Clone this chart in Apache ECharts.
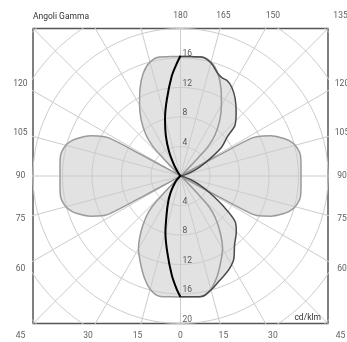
<!DOCTYPE html>
<html><head><meta charset="utf-8">
<script src="https://cdn.jsdelivr.net/npm/echarts@6/dist/echarts.min.js"></script>
<style>html,body{margin:0;padding:0;background:#fff}#c{width:347px;height:342px}</style>
</head><body><div id="c"></div>
<script>
// ---- data (gamma angle in degrees, intensity in cd/klm) ----
const lightGamma = [0,5,10,15,20,25,30,35,40,43,44,45,47,50,53,60,61,61.5,62,64,66,70,72,75,80,85,90,95,100,105,108,110,114,116,118,118.5,119,120,127,130,133,135,136,137,140,145,150,155,160,165,170,175,180];
const lightI     = [16.4,16.45,16.55,15.9,14.5,12.9,11.4,9.4,7.3,5.6,3.5,1.8,0.7,0.2,0,0,1.5,6,11.0,12.4,13.4,14.9,15.5,16.1,16.5,16.4,16.34,16.4,16.5,16.1,15.5,14.9,13.4,12.4,11.0,6,1.5,0,0,0.2,0.7,1.8,3.5,5.5,7.3,9.3,11.1,13.0,14.8,16.0,16.4,16.25,16.2];
const darkGamma  = [0,5,10,15,20,24,28,33,38,45,50,55,60,65,70,75,80,85,95,100,105,110,115,120,125,130,133,139,145,150,154,157,160,165,170,175,180];
const darkI      = [16.37,16.45,16.6,16.0,15.2,14.7,14.2,13.3,11.9,10.7,9.7,7.0,4.6,2.8,1.5,0.6,0.1,0,0,0.1,0.6,1.5,2.8,4.5,6.8,8.3,10.1,11.5,12.9,13.9,14.4,14.45,14.8,15.9,16.4,16.25,16.2];
const blackGamma = [0,2,5,10,15,20,25,30,35,40,45,50,55,135,140,145,150,155,160,165,170,175,178,180];
const blackI     = [16.4,15.3,13.5,10.4,7.9,5.5,4.0,2.8,1.8,1.1,0.6,0.25,0,0,0.1,0.6,1.8,3.7,5.8,8.1,10.6,13.6,15.2,16.3];

const circleRadii = [4,8,12,16,20,24,28];
const spokeAngles = [0,15,30,45,60,75,90,105,120,135,150,165];
const radialTopTicks = [4,8,12,16];
const radialBottomTicks = [4,8,12,16,20];
const topTickLabels = ['180','165','150','135'];
const topTickAngles = [0,15,30,45];
const sideTickLabels = ['120','105','90','75','60'];
const sideTickAngles = [30,15,0,-15,-30];
const bottomTickLabels = ['45','30','15','0','15','30','45'];
const bottomTickAngles = [-45,-30,-15,0,15,30,45];

// ---- build ----
const rad = d => d*Math.PI/180;
const LABEL_D = 21.7;
const FONT = 'Roboto';
const TXT = '#333';

function circlePts(r){const p=[];for(let a=0;a<=360;a+=2){p.push([r*Math.sin(rad(a)),r*Math.cos(rad(a))]);}return p;}
const gridData = circleRadii.map(r=>({coords:circlePts(r)}))
  .concat(spokeAngles.map(a=>({coords:[[32*Math.sin(rad(a)),32*Math.cos(rad(a))],[-32*Math.sin(rad(a)),-32*Math.cos(rad(a))]]})));

const right = (G,I)=>G.map((g,i)=>[I[i], g]);
const left  = (G,I)=>G.map((g,i)=>[I[i], 360-g]);

const curves = [
  {d:right(lightGamma,lightI), c:'#9a9a9a', w:1.5},
  {d:left(lightGamma,lightI),  c:'#9a9a9a', w:1.5},
  {d:right(darkGamma,darkI),   c:'#4a4a4a', w:1.5},
  {d:left(blackGamma,blackI),  c:'#000000', w:2}
];
const FILL = '#e2e2e2';
const fillSeries = curves.map(cv=>({type:'line',coordinateSystem:'polar',data:cv.d,smooth:0.3,showSymbol:false,silent:true,z:1,
  lineStyle:{width:0,opacity:0},areaStyle:{color:FILL,opacity:1}}));
const strokeSeries = curves.map((cv,i)=>({type:'line',coordinateSystem:'polar',data:cv.d,smooth:0.3,showSymbol:false,silent:true,z:3+i,
  lineStyle:{width:cv.w,color:cv.c}}));

const labelData = [];
topTickLabels.forEach((t,i)=>labelData.push([LABEL_D*Math.tan(rad(topTickAngles[i])), LABEL_D, t]));
sideTickLabels.forEach((t,i)=>{labelData.push([-LABEL_D, LABEL_D*Math.tan(rad(sideTickAngles[i])), t]);labelData.push([LABEL_D+0.2, LABEL_D*Math.tan(rad(sideTickAngles[i])), t]);});
bottomTickLabels.forEach((t,i)=>labelData.push([LABEL_D*Math.tan(rad(bottomTickAngles[i])), -LABEL_D, t]));

const radialData = radialTopTicks.map(r=>[0,r,String(r)]).concat(radialBottomTicks.map(r=>[0,-r,String(r)]));

const option = {
  animation:false,
  backgroundColor:'#fff',
  grid:{left:33,top:28.5,width:295,height:295,show:true,borderColor:'#555',borderWidth:1.5,backgroundColor:'transparent'},
  xAxis:{type:'value',min:-20,max:20,show:false},
  yAxis:{type:'value',min:-20,max:20,show:false},
  polar:{center:[180.5,176],radius:147.5},
  angleAxis:{type:'value',min:0,max:360,startAngle:270,clockwise:false,show:false},
  radiusAxis:{type:'value',min:0,max:20,show:false},
  graphic:[
    {type:'text',left:33,top:12,z:10,style:{text:'Angoli Gamma',font:'8.5px '+FONT,fill:TXT}},
    {type:'text',right:26,top:313,z:10,style:{text:'cd/klm',font:'8.5px '+FONT,fill:TXT}}
  ],
  series:[
    ...fillSeries,
    {type:'lines',coordinateSystem:'cartesian2d',polyline:true,silent:true,z:2,clip:true,data:gridData,
      lineStyle:{color:'#cccccc',width:1,opacity:1}},
    ...strokeSeries,
    {type:'scatter',data:labelData,symbolSize:1,clip:false,silent:true,z:10,itemStyle:{color:'rgba(0,0,0,0)'},
      label:{show:true,position:'inside',formatter:p=>p.value[2],fontFamily:FONT,fontSize:8.5,color:TXT}},
    {type:'scatter',data:radialData,symbolSize:1,clip:false,silent:true,z:10,itemStyle:{color:'rgba(0,0,0,0)'},
      label:{show:true,position:'inside',align:'left',verticalAlign:'middle',offset:[2,-4],formatter:p=>p.value[2],fontFamily:FONT,fontSize:8.5,color:TXT}}
  ]
};
const chart = echarts.init(document.getElementById('c'));
chart.setOption(option);
</script></body></html>
